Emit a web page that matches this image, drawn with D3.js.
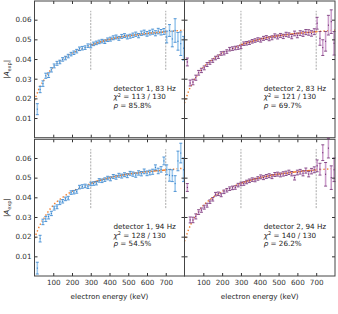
<!DOCTYPE html>
<html lang="en">
<head>
<meta charset="UTF-8">
<title>Asymmetry vs electron energy</title>
<style>
  body { margin: 0; background: #fff; }
  svg { display: block; font-family: "DejaVu Sans", sans-serif; }
</style>
<script src="https://cdn.jsdelivr.net/npm/d3@7"></script>
</head>
<body>
<script>
// bin centres (keV)
const energy = [15, 30, 45, 60, 75, 90, 105, 120, 135, 150, 165, 180, 195, 210, 225, 240, 255, 270, 285, 300,
  315, 330, 345, 360, 375, 390, 405, 420, 435, 450, 465, 480, 495, 510, 525, 540, 555, 570, 585, 600,
  615, 630, 645, 660, 675, 690, 705, 720, 735, 750, 765, 780, 795];

// detector 1, 83 Hz
const det1_83 = [.0145, .0245, .0275, .0315, .0318, .0345, .0365, .0378, .0385, .0398, .0405, .0415, .0425, .0432, .0440, .0452, .0455, .0458, .0468, .0466,
  .0477, .0482, .0487, .0491, .0488, .0498, .0501, .0508, .0512, .0505, .0515, .0519, .0512, .0516, .0521, .0526, .0519, .0531, .0535, .0528,
  .0534, .0539, .0531, .0542, .0536, .0540, .0512, .0545, .0502, .0545, .0490, .0478, .0455];
const err1_83 = [.0028, .0016, .0014, .0013, .0012, .0011, .0010, .0010, .0009, .0009, .0009, .0009, .0009, .0009, .0009, .0009, .0009, .0009, .0009, .0009,
  .0009, .0009, .0009, .0009, .0009, .0009, .0010, .0010, .0010, .0010, .0010, .0010, .0010, .0010, .0011, .0011, .0011, .0011, .0012, .0012,
  .0012, .0013, .0013, .0014, .0014, .0015, .0030, .0030, .0040, .0060, .0045, .0060, .0060];

// detector 2, 83 Hz
const det2_83 = [.0385, .0278, .0283, .0305, .0330, .0342, .0355, .0372, .0382, .0392, .0405, .0412, .0428, .0430, .0438, .0450, .0453, .0456, .0458, .0462,
  .0478, .0480, .0483, .0490, .0494, .0499, .0496, .0505, .0509, .0503, .0508, .0518, .0512, .0520, .0515, .0525, .0522, .0514, .0530, .0520,
  .0532, .0528, .0537, .0535, .0530, .0539, .0582, .0505, .0458, .0490, .0572, .0590, .0480];
const err2_83 = [.0020, .0015, .0014, .0013, .0012, .0011, .0010, .0010, .0009, .0009, .0009, .0009, .0009, .0009, .0009, .0009, .0009, .0009, .0009, .0009,
  .0009, .0009, .0009, .0009, .0009, .0009, .0010, .0010, .0010, .0010, .0010, .0010, .0010, .0010, .0011, .0011, .0011, .0011, .0012, .0012,
  .0012, .0013, .0013, .0014, .0014, .0015, .0030, .0035, .0040, .0050, .0050, .0060, .0060];

// detector 1, 94 Hz
const det1_94 = [.0040, .0190, .0275, .0290, .0302, .0318, .0345, .0352, .0372, .0380, .0392, .0396, .0424, .0426, .0430, .0452, .0455, .0458, .0454, .0468,
  .0470, .0472, .0486, .0484, .0490, .0498, .0494, .0506, .0502, .0512, .0508, .0515, .0510, .0522, .0518, .0513, .0524, .0520, .0532, .0522,
  .0526, .0530, .0552, .0534, .0542, .0585, .0540, .0512, .0510, .0470, .0585, .0625, .0540];
const err1_94 = [.0030, .0017, .0014, .0013, .0012, .0011, .0010, .0010, .0009, .0009, .0009, .0009, .0009, .0009, .0009, .0009, .0009, .0009, .0009, .0009,
  .0009, .0009, .0009, .0009, .0009, .0009, .0010, .0010, .0010, .0010, .0010, .0010, .0010, .0010, .0011, .0011, .0011, .0011, .0012, .0012,
  .0012, .0013, .0013, .0014, .0014, .0020, .0025, .0030, .0030, .0040, .0050, .0050, .0060];

// detector 2, 94 Hz
const det2_94 = [.0450, .0285, .0285, .0303, .0325, .0335, .0350, .0360, .0378, .0390, .0416, .0418, .0412, .0428, .0436, .0444, .0448, .0450, .0462, .0468,
  .0470, .0478, .0484, .0490, .0488, .0496, .0504, .0500, .0506, .0510, .0505, .0516, .0518, .0514, .0519, .0522, .0527, .0520, .0500, .0526,
  .0530, .0522, .0536, .0518, .0533, .0540, .0560, .0543, .0627, .0517, .0650, .0500, .0540];
const err2_94 = [.0020, .0015, .0014, .0013, .0012, .0011, .0010, .0010, .0009, .0009, .0009, .0009, .0009, .0009, .0009, .0009, .0009, .0009, .0009, .0009,
  .0009, .0009, .0009, .0009, .0009, .0009, .0010, .0010, .0010, .0010, .0010, .0010, .0010, .0010, .0011, .0011, .0011, .0011, .0012, .0012,
  .0012, .0013, .0013, .0014, .0014, .0015, .0030, .0030, .0040, .0060, .0050, .0060, .0060];

// fit curves
const fitE = [0, 10, 20, 35, 50, 75, 100, 150, 200, 250, 300, 350, 400, 450, 500, 550, 600, 650, 700, 750, 800];
const fit1_83 = [.0190, .0215, .0240, .0270, .0293, .0330, .0360, .0400, .0430, .0450, .0470, .0487, .0500, .0510, .0518, .0524, .0530, .0534, .0538, .0543, .0547];
const fit2_83 = [.0176, .0205, .0232, .0265, .0290, .0328, .0358, .0399, .0429, .0451, .0472, .0488, .0501, .0511, .0519, .0525, .0530, .0535, .0539, .0543, .0547];
const fit1_94 = [.0192, .0216, .0240, .0270, .0293, .0330, .0360, .0400, .0430, .0450, .0470, .0487, .0500, .0510, .0518, .0524, .0530, .0535, .0539, .0544, .0548];
const fit2_94 = [.0176, .0205, .0232, .0265, .0290, .0328, .0358, .0399, .0429, .0451, .0471, .0487, .0500, .0510, .0518, .0524, .0530, .0535, .0539, .0543, .0547];

const labels = [
  ["detector 1, 83 Hz", "113 / 130", "85.8%"],
  ["detector 2, 83 Hz", "121 / 130", "69.7%"],
  ["detector 1, 94 Hz", "128 / 130", "54.5%"],
  ["detector 2, 94 Hz", "140 / 130", "26.2%"]
];
const xTicks = [100, 200, 300, 400, 500, 600, 700];
const yTicks = [0.01, 0.02, 0.03, 0.04, 0.05, 0.06];
const fitRange = [300, 700];

const blue = { dark: "#2f7fcc", light: "#9fcaee" };
const purple = { dark: "#6e2a70", light: "#cc9fcc" };
const orange = "#f07c2a";

const width = 338, height = 314;
const svg = d3.select("body").append("svg").attr("width", width).attr("height", height);

const cols = [[34.5, 184.5], [184.5, 335]];
const rows = [[1, 137.7], [139.3, 276]];

const panels = [
  { c: 0, r: 0, v: det1_83, e: err1_83, fit: fit1_83, col: blue, lab: labels[0] },
  { c: 1, r: 0, v: det2_83, e: err2_83, fit: fit2_83, col: purple, lab: labels[1] },
  { c: 0, r: 1, v: det1_94, e: err1_94, fit: fit1_94, col: blue, lab: labels[2] },
  { c: 1, r: 1, v: det2_94, e: err2_94, fit: fit2_94, col: purple, lab: labels[3] }
];

panels.forEach(p => {
  const x = d3.scaleLinear().domain([0, 800]).range(cols[p.c]);
  const y = d3.scaleLinear().domain([0, 0.0695]).range([rows[p.r][1], rows[p.r][0]]);
  const g = svg.append("g");

  // fit region markers
  g.selectAll("line.rng").data(fitRange).join("line")
    .attr("x1", d => x(d)).attr("x2", d => x(d))
    .attr("y1", y(0.0345)).attr("y2", y(0.0645))
    .attr("stroke", "#aaa").attr("stroke-width", 1).attr("stroke-dasharray", "2,1.2");

  // fit curve: solid inside the fit range, dotted outside
  const pts = fitE.map((e, i) => [e, p.fit[i]]);
  const line = d3.line().x(d => x(d[0])).y(d => y(d[1])).curve(d3.curveMonotoneX);
  const segs = [
    { d: pts.filter(d => d[0] <= fitRange[0]), dot: true },
    { d: pts.filter(d => d[0] >= fitRange[0] && d[0] <= fitRange[1]), dot: false },
    { d: pts.filter(d => d[0] >= fitRange[1]), dot: true }
  ];
  segs.forEach(s => {
    g.append("path").attr("d", line(s.d)).attr("fill", "none")
      .attr("stroke", orange).attr("stroke-width", s.dot ? 1.4 : 1.6)
      .attr("stroke-dasharray", s.dot ? "1.4,2.2" : null);
  });

  // error bars
  const pd = energy.map((e, i) => ({ e, v: p.v[i], s: p.e[i] }));
  const eb = g.selectAll("g.eb").data(pd).join("g");
  eb.append("line")
    .attr("x1", d => x(d.e)).attr("x2", d => x(d.e))
    .attr("y1", d => y(d.v - d.s)).attr("y2", d => y(d.v + d.s))
    .attr("stroke", p.col.light).attr("stroke-width", 1.6);
  [-1, 1].forEach(k => {
    eb.append("line")
      .attr("x1", d => x(d.e) - 1.5).attr("x2", d => x(d.e) + 1.5)
      .attr("y1", d => y(d.v + k * d.s)).attr("y2", d => y(d.v + k * d.s))
      .attr("stroke", p.col.dark).attr("stroke-width", 0.8);
  });
  eb.append("line")
    .attr("x1", d => x(d.e)).attr("x2", d => x(d.e))
    .attr("y1", d => y(d.v) - 0.6).attr("y2", d => y(d.v) + 0.6)
    .attr("stroke", p.col.dark).attr("stroke-width", 1);

  // frame and ticks
  const axStyle = a => a.call(s => s.select(".domain").remove())
    .call(s => s.selectAll("line").attr("stroke", "#333"))
    .call(s => s.selectAll("text").attr("fill", "#333").attr("font-size", "7.2px").attr("font-family", "DejaVu Sans"));
  g.append("g").attr("transform", `translate(${cols[p.c][0]},0)`)
    .call(d3.axisLeft(y).tickValues(yTicks).tickSize(-3).tickPadding(3)
      .tickFormat(p.c === 0 ? d3.format(".2f") : () => ""))
    .call(axStyle);
  g.append("g").attr("transform", `translate(${cols[p.c][1]},0)`)
    .call(d3.axisRight(y).tickValues(yTicks).tickSize(-3).tickFormat(() => ""))
    .call(axStyle);
  g.append("g").attr("transform", `translate(0,${rows[p.r][0]})`)
    .call(d3.axisTop(x).tickValues(xTicks).tickSize(-3).tickFormat(() => ""))
    .call(axStyle);
  g.append("g").attr("transform", `translate(0,${rows[p.r][1]})`)
    .call(d3.axisBottom(x).tickValues(xTicks).tickSize(-3).tickPadding(4)
      .tickFormat(p.r === 1 ? d3.format("d") : () => ""))
    .call(axStyle);
  g.append("rect")
    .attr("x", cols[p.c][0]).attr("y", rows[p.r][0])
    .attr("width", cols[p.c][1] - cols[p.c][0]).attr("height", rows[p.r][1] - rows[p.r][0])
    .attr("fill", "none").attr("stroke", "#444").attr("stroke-width", 1);

  // annotation
  const t = g.append("text").attr("font-size", "7.2px").attr("fill", "#222");
  const tx = x(421), ty = rows[p.r][0] + 89.7;
  t.append("tspan").attr("x", tx).attr("y", ty).text(p.lab[0]);
  const l2 = t.append("tspan").attr("x", tx).attr("y", ty + 8.6);
  l2.append("tspan").attr("font-style", "italic").text("χ");
  l2.append("tspan").attr("dy", -2.6).attr("font-size", "5px").text("2");
  l2.append("tspan").attr("dy", 2.6).text(" = " + p.lab[1]);
  const l3 = t.append("tspan").attr("x", tx).attr("y", ty + 17.2);
  l3.append("tspan").attr("font-style", "italic").text("ρ");
  l3.append("tspan").text(" = " + p.lab[2]);

  // axis titles
  if (p.c === 0) {
    const cy = (rows[p.r][0] + rows[p.r][1]) / 2;
    const yl = g.append("text").attr("transform", `translate(9,${cy}) rotate(-90)`)
      .attr("text-anchor", "middle").attr("font-size", "7.2px").attr("fill", "#222");
    yl.append("tspan").text("|");
    yl.append("tspan").attr("font-style", "italic").text("A");
    yl.append("tspan").attr("font-size", "5px").attr("dy", 1.5).text("exp");
    yl.append("tspan").attr("dy", -1.5).text("|");
  }
  if (p.r === 1) {
    g.append("text").attr("x", (cols[p.c][0] + cols[p.c][1]) / 2).attr("y", 298.5)
      .attr("text-anchor", "middle").attr("font-size", "7.2px").attr("fill", "#222")
      .text("electron energy (keV)");
  }
});
</script>
</body>
</html>
